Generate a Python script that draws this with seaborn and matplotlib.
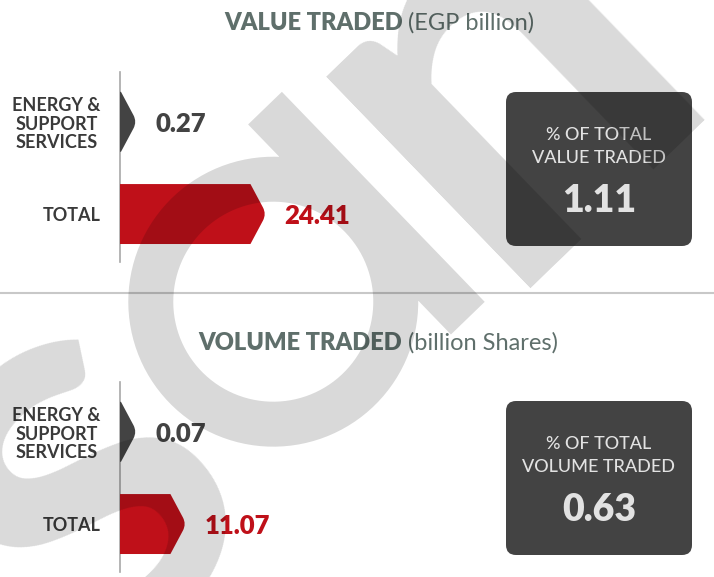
import numpy as np
import pandas as pd
import matplotlib
matplotlib.use('Agg')
import matplotlib.pyplot as plt
from matplotlib.path import Path
from matplotlib.patches import PathPatch, FancyBboxPatch
import seaborn as sns

# ================================
# DATA
# ================================
categories = ['ENERGY &\nSUPPORT\nSERVICES', 'TOTAL']
value_traded = [0.27, 24.41]          # EGP billion
volume_traded = [0.07, 11.07]         # billion shares
value_share = '1.11'                  # % of total value traded
volume_share = '0.63'                 # % of total volume traded
value_labels = ['0.27', '24.41']
volume_labels = ['0.07', '11.07']

bar_colors = ['#434343', '#bf1019']
title_color = '#5f6f6b'
label_color = '#3a3a3a'

# ================================
# STYLE
# ================================
sns.set_style('white')
plt.rcParams['font.family'] = ['Lato', 'DejaVu Sans']

W, H = 714, 577
fig = plt.figure(figsize=(W / 100, H / 100), dpi=100)
PX = 6.0  # pixels per data unit on the bar axes


def px_axes(left, top, width, height):
    return fig.add_axes([left / W, 1 - (top + height) / H, width / W, height / H])


def arrow_path(x0, L, yc, h, tip):
    # pentagon bar with a slightly rounded tip
    rect_end = max(L - tip, x0)
    t = L - rect_end
    top, bot = yc - h / 2, yc + h / 2
    e = 0.22
    verts = [(x0, top), (rect_end, top),
             (L - t * e, yc - h / 2 * e), (L, yc), (L - t * e, yc + h / 2 * e),
             (rect_end, bot), (x0, bot), (x0, top)]
    codes = [Path.MOVETO, Path.LINETO, Path.LINETO, Path.CURVE3, Path.CURVE3,
             Path.LINETO, Path.LINETO, Path.CLOSEPOLY]
    return Path(verts, codes)


def bar_panel(top, values, labels):
    ax = px_axes(120, top, 380, 190)
    df = pd.DataFrame({'category': categories, 'value': values})
    sns.barplot(data=df, x='value', y='category', hue='category',
                palette=bar_colors, width=0.65, legend=False, ax=ax)
    ax.set_xlim(0, 380 / PX)
    ax.set_ylim(1.52, -0.54)
    tip = 16 / PX
    min_len = 17 / PX
    for patch, lab, col in zip(ax.patches, labels, bar_colors):
        x0, w = patch.get_x(), patch.get_width()
        y0, h = patch.get_y(), patch.get_height()
        yc = y0 + h / 2
        L = max(w, min_len)
        patch.set_visible(False)
        ax.add_patch(PathPatch(arrow_path(x0, L, yc, h, tip),
                               facecolor=col, edgecolor='none', zorder=3))
        ax.annotate(lab, xy=(L, yc), xytext=(18, -2), textcoords='offset pixels',
                    va='center', ha='left', fontsize=18.5, fontweight='heavy',
                    color=col)
    for s in ['top', 'right', 'bottom']:
        ax.spines[s].set_visible(False)
    ax.spines['left'].set_color('#a8a8a8')
    ax.spines['left'].set_linewidth(1.2)
    ax.set_xticks([])
    ax.set_xlabel('')
    ax.set_ylabel('')
    ax.tick_params(axis='y', length=0, pad=14)
    for t in ax.get_yticklabels():
        t.set_multialignment('center')
        t.set_fontsize(13)
        t.set_fontweight('bold')
        t.set_color(label_color)
        t.set_linespacing(1.12)
    ax.set_facecolor('none')
    return ax


bar_panel(72, value_traded, value_labels)
bar_panel(382, volume_traded, volume_labels)

# ================================
# OVERLAY: titles, boxes, separator, watermark
# ================================
ov = fig.add_axes([0, 0, 1, 1])
ov.set_xlim(0, W)
ov.set_ylim(H, 0)
ov.axis('off')
ov.set_facecolor('none')

fig.canvas.draw()
renderer = fig.canvas.get_renderer()


def two_part_title(bold, light, cx, y):
    t1 = ov.text(0, y, bold, fontsize=17, fontweight='heavy', color=title_color,
                 va='center', ha='left')
    t2 = ov.text(0, y, light, fontsize=17, fontweight='normal', color=title_color,
                 va='center', ha='left')
    w1 = t1.get_window_extent(renderer).width
    w2 = t2.get_window_extent(renderer).width
    x0 = cx - (w1 + w2) / 2
    t1.set_x(x0)
    t2.set_x(x0 + w1)


two_part_title('VALUE TRADED ', '(EGP billion)', 379, 23)
two_part_title('VOLUME TRADED ', '(billion Shares)', 378, 343)

ov.plot([0, W], [293, 293], color='#c8c8c8', lw=1.5)


def share_box(top, line2, number):
    ov.add_patch(FancyBboxPatch((506, top), 186, 154,
                                boxstyle='round,pad=0,rounding_size=10',
                                facecolor='#434343', edgecolor='none'))
    cx = 599
    ov.text(cx, top + 43, '% OF TOTAL', fontsize=13, color='#e2e2e2',
            ha='center', va='center', fontweight='medium')
    ov.text(cx, top + 66, line2, fontsize=13, color='#e2e2e2',
            ha='center', va='center', fontweight='medium')
    ov.text(cx, top + 109, number, fontsize=27, color='#e2e2e2',
            ha='center', va='center', fontweight='heavy')


share_box(92, 'VALUE TRADED', value_share)
share_box(401, 'VOLUME TRADED', volume_share)

# ================================
# WATERMARK (rotated "sam")
# ================================
ang = 44
th = np.deg2rad(ang)
ex = np.array([np.cos(th), -np.sin(th)])    # along baseline
ey = np.array([-np.sin(th), -np.cos(th)])   # up
origin = np.array([374.0, 406.0])
xh = 290.0


def loc(u, v):
    return origin + u * ex + v * ey


t = np.linspace(0, 2 * np.pi, 120)
outer = [loc(145 * np.cos(a), xh / 2 + 145 * np.sin(a)) for a in t]
inner = [loc(100 * np.cos(a), xh / 2 + 100 * np.sin(a)) for a in t[::-1]]
stem = [loc(105, -2), loc(152, -2), loc(152, xh), loc(105, xh), loc(105, -2)]
verts = outer + inner + stem
codes = ([Path.MOVETO] + [Path.LINETO] * (len(outer) - 1)
         + [Path.MOVETO] + [Path.LINETO] * (len(inner) - 1)
         + [Path.MOVETO] + [Path.LINETO] * (len(stem) - 1))
ov.add_patch(PathPatch(Path(verts, codes), facecolor='black', edgecolor='none',
                       alpha=0.15, zorder=10))
wm = dict(fontsize=413, color='black', alpha=0.15, rotation=ang,
          rotation_mode='anchor', va='baseline', fontweight='bold', zorder=10)
ov.text(*loc(-140, 0), 's', ha='right', **wm)
ov.text(*loc(170, 0), 'm', ha='left', **wm)

fig.savefig('out.png', dpi=100)
